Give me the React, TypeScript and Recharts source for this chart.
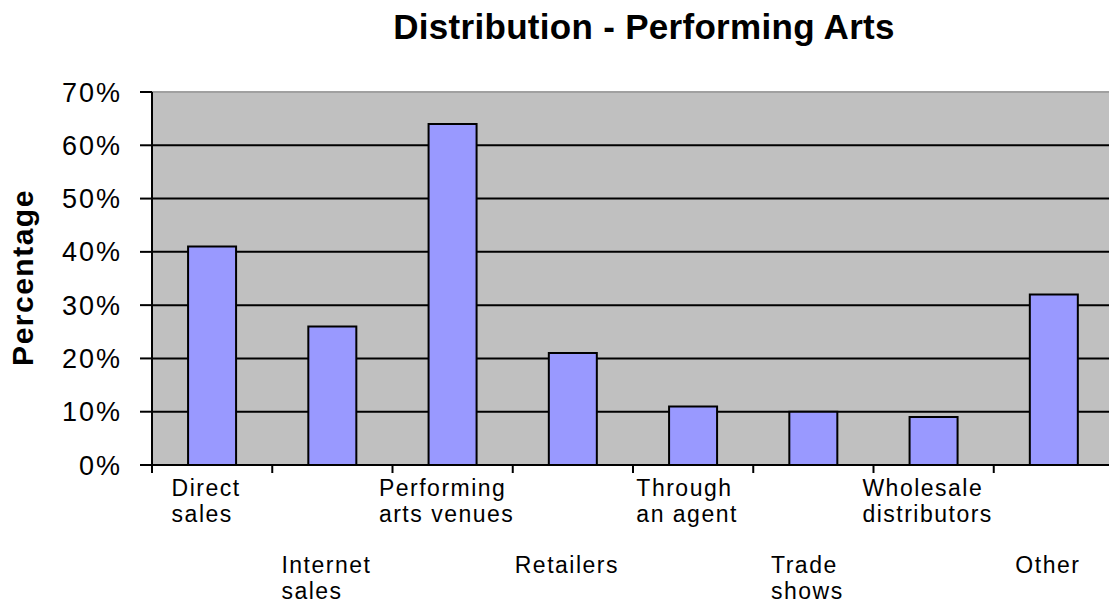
import { BarChart, Bar, XAxis, YAxis, CartesianGrid, ReferenceLine } from "recharts";

const categories = [
  "Direct sales",
  "Internet sales",
  "Performing arts venues",
  "Retailers",
  "Through an agent",
  "Trade shows",
  "Wholesale distributors",
  "Other",
];
const percentages = [41, 26, 64, 21, 11, 10, 9, 32];
const tickLines = [
  ["Direct", "sales"],
  ["Internet", "sales"],
  ["Performing", "arts venues"],
  ["Retailers"],
  ["Through", "an agent"],
  ["Trade", "shows"],
  ["Wholesale", "distributors"],
  ["Other"],
];
const yTicks = [0, 10, 20, 30, 40, 50, 60, 70];

const FONT = "'Liberation Sans', Arial, sans-serif";
const LABEL_SIZE = 23;
const LABEL_SPACING = 1.5;
const TICK_LEN = 8;

let ctx: CanvasRenderingContext2D | null = null;
function textWidth(s: string) {
  if (!ctx) ctx = document.createElement("canvas").getContext("2d");
  if (!ctx) return s.length * LABEL_SIZE * 0.5;
  ctx.font = `${LABEL_SIZE}px ${FONT}`;
  return ctx.measureText(s).width + s.length * LABEL_SPACING;
}

// label plus the tick marks, which sit on the category boundaries
function CategoryTick(props: any) {
  const { x, y, index, width, visibleTicksCount } = props;
  const half = width / (visibleTicksCount || categories.length) / 2;
  const axisY = y - TICK_LEN;
  const lines = tickLines[index] ?? [String(props.payload.value)];
  const w = Math.max(...lines.map(textWidth));
  const left = x - w / 2 - 6;
  const top = y + 23 + (index % 2) * 77;
  return (
    <g>
      <line x1={x - half} x2={x - half} y1={axisY} y2={axisY + TICK_LEN} stroke="#000" strokeWidth={2} />
      {index === categories.length - 1 && (
        <line x1={x + half} x2={x + half} y1={axisY} y2={axisY + TICK_LEN} stroke="#000" strokeWidth={2} />
      )}
      <text
        x={left}
        y={top}
        textAnchor="start"
        fontFamily={FONT}
        fontSize={LABEL_SIZE}
        letterSpacing={LABEL_SPACING}
        fill="#000"
      >
        {lines.map((l, i) => (
          <tspan key={i} x={left} y={top + i * 26}>
            {l}
          </tspan>
        ))}
      </text>
    </g>
  );
}

function YLabel(props: any) {
  const vb = props.viewBox;
  const cy = vb.y + vb.height / 2 - 1;
  return (
    <text
      x={33}
      y={cy}
      transform={`rotate(-90, 33, ${cy})`}
      textAnchor="middle"
      fontFamily={FONT}
      fontWeight="bold"
      fontSize={30}
      letterSpacing={1.5}
      fill="#000"
    >
      Percentage
    </text>
  );
}

export default function App() {
  const data = categories.map((name, i) => ({ name, value: percentages[i] }));

  return (
    <div
      style={{
        position: "fixed",
        top: 0,
        left: 0,
        width: 1109,
        height: 603,
        overflow: "hidden",
        background: "#fff",
      }}
    >
      <div
        style={{
          position: "absolute",
          top: 9,
          left: 0,
          width: 1288,
          textAlign: "center",
          fontFamily: FONT,
          fontWeight: "bold",
          fontSize: 35,
          lineHeight: "35px",
          letterSpacing: 0.3,
          color: "#000",
        }}
      >
        Distribution - Performing Arts
      </div>
      <BarChart
        width={1120}
        height={603}
        data={data}
        margin={{ top: 92, right: 6, bottom: 0, left: 0 }}
        barCategoryGap="30%"
      >
        <CartesianGrid
          vertical={false}
          horizontalValues={[10, 20, 30, 40, 50, 60]}
          stroke="#000"
          strokeWidth={2}
          fill="#C0C0C0"
          fillOpacity={1}
        />
        <ReferenceLine y={70} stroke="#a0a0a0" strokeWidth={2} />
        <XAxis
          dataKey="name"
          height={138}
          interval={0}
          axisLine={{ stroke: "#000", strokeWidth: 2 }}
          tickLine={false}
          tickSize={TICK_LEN}
          tickMargin={0}
          tick={<CategoryTick />}
        />
        <YAxis
          width={152}
          domain={[0, 70]}
          ticks={yTicks}
          interval={0}
          tickFormatter={(v: number) => `${v}%`}
          axisLine={{ stroke: "#000", strokeWidth: 2 }}
          tickLine={{ stroke: "#000", strokeWidth: 2 }}
          tickSize={12}
          tickMargin={18}
          tick={{ fill: "#000", fontSize: 27, fontFamily: FONT, letterSpacing: 2 }}
          label={<YLabel />}
        />
        <Bar
          dataKey="value"
          fill="#9999FF"
          stroke="#000"
          strokeWidth={2}
          isAnimationActive={false}
        />
      </BarChart>
    </div>
  );
}
